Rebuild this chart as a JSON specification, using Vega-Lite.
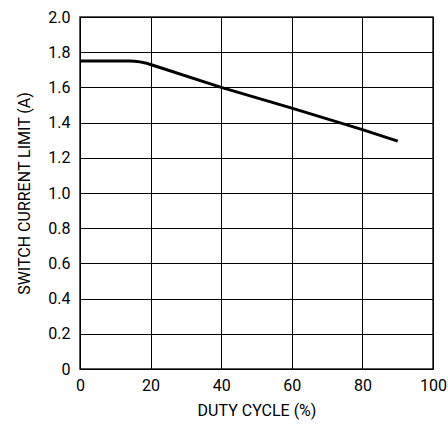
{
  "$schema": "https://vega.github.io/schema/vega-lite/v6.json",
  "width": 353,
  "height": 352,
  "autosize": {"type": "none"},
  "padding": {"left": 80, "top": 17, "right": 15, "bottom": 57},
  "background": "white",
  "config": {
    "font": "Roboto",
    "view": {"stroke": "#222222", "strokeWidth": 1.5},
    "axis": {
      "grid": true,
      "gridColor": "#000000",
      "gridOpacity": 1,
      "gridWidth": 1,
      "domain": false,
      "ticks": false,
      "labelColor": "#000000",
      "labelFontSize": 16,
      "titleColor": "#000000",
      "titleFontSize": 16,
      "titleFontWeight": "normal"
    }
  },
  "data": {
    "values": [
      {"duty": 0, "ilim": 1.75},
      {"duty": 14, "ilim": 1.75},
      {"duty": 15.5, "ilim": 1.749},
      {"duty": 17, "ilim": 1.745},
      {"duty": 18.5, "ilim": 1.739},
      {"duty": 20, "ilim": 1.73},
      {"duty": 40, "ilim": 1.6},
      {"duty": 60, "ilim": 1.482},
      {"duty": 80, "ilim": 1.36},
      {"duty": 90, "ilim": 1.295}
    ]
  },
  "mark": {"type": "line", "color": "#000000", "strokeWidth": 3, "strokeJoin": "round", "strokeCap": "butt"},
  "encoding": {
    "x": {
      "field": "duty",
      "type": "quantitative",
      "scale": {"domain": [0, 100], "nice": false},
      "axis": {"values": [0, 20, 40, 60, 80, 100], "title": "DUTY CYCLE (%)", "labelPadding": 8, "titlePadding": 9, "labelFlush": false}
    },
    "y": {
      "field": "ilim",
      "type": "quantitative",
      "scale": {"domain": [0, 2], "nice": false},
      "axis": {
        "values": [0, 0.2, 0.4, 0.6, 0.8, 1.0, 1.2, 1.4, 1.6, 1.8, 2.0],
        "labelExpr": "datum.value == 0 ? '0' : format(datum.value, '.1f')",
        "title": "SWITCH CURRENT LIMIT (A)",
        "labelPadding": 10,
        "titlePadding": 15,
        "labelFlush": false
      }
    }
  }
}
